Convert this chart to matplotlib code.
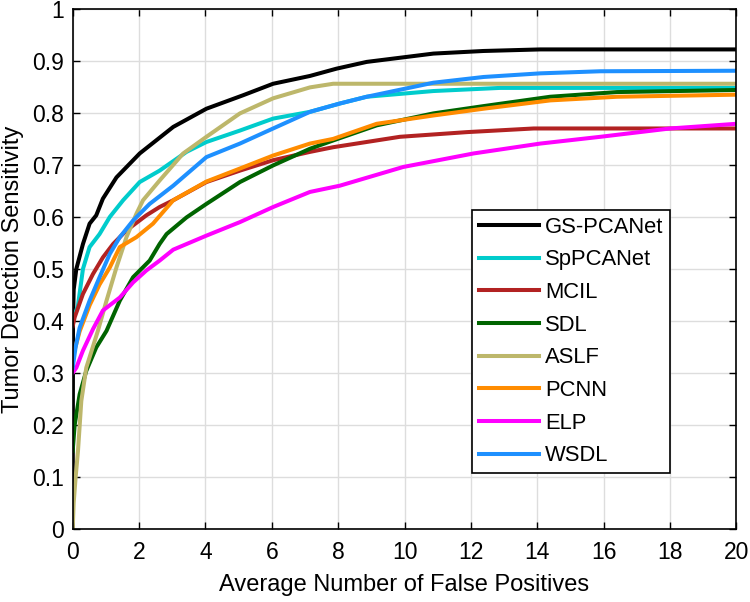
import matplotlib
matplotlib.use('Agg')
import matplotlib.pyplot as plt

plt.rcParams['font.family'] = ['Liberation Sans', 'DejaVu Sans']

# FROC curves
gs_x = [0, 0.01, 0.03, 0.11, 0.31, 0.51, 0.71, 0.91, 1.32, 2.02, 3.03, 4.03, 5.14, 6.04, 7.15, 7.95, 8.86, 10.87, 12.38, 14.09, 20]
gs_y = [0, 0.40, 0.46, 0.50, 0.548, 0.587, 0.603, 0.635, 0.676, 0.722, 0.773, 0.808, 0.834, 0.856, 0.871, 0.885, 0.898, 0.914, 0.919, 0.922, 0.922]

sp_x = [0, 0.16, 0.31, 0.51, 0.81, 1.12, 1.52, 2.02, 2.62, 3.43, 4.03, 5.04, 6.04, 7.15, 8.05, 8.86, 10.87, 12.88, 20]
sp_y = [0.40, 0.43, 0.50, 0.542, 0.567, 0.60, 0.632, 0.667, 0.689, 0.725, 0.744, 0.766, 0.789, 0.802, 0.818, 0.831, 0.842, 0.848, 0.848]

mcil_x = [0, 0.06, 0.31, 0.61, 0.91, 1.22, 1.62, 2.22, 2.62, 3.03, 4.03, 5.04, 6.04, 7.15, 7.85, 9.86, 11.88, 13.89, 20]
mcil_y = [0.39, 0.407, 0.452, 0.49, 0.522, 0.548, 0.574, 0.603, 0.619, 0.632, 0.667, 0.689, 0.709, 0.725, 0.734, 0.754, 0.763, 0.770, 0.770]

sdl_x = [0, 0.06, 0.21, 0.41, 0.71, 1.02, 1.42, 1.82, 2.32, 2.62, 2.83, 3.43, 4.03, 5.04, 6.04, 7.15, 7.85, 9.16, 10.87, 12.38, 14.39, 16.4, 20]
sdl_y = [0.15, 0.20, 0.259, 0.304, 0.349, 0.381, 0.439, 0.484, 0.516, 0.548, 0.567, 0.599, 0.625, 0.667, 0.699, 0.731, 0.747, 0.776, 0.799, 0.813, 0.831, 0.840, 0.844]

aslf_x = [0, 0.03, 0.09, 0.16, 0.26, 0.41, 0.76, 1.02, 1.32, 1.62, 1.92, 2.12, 2.62, 3.33, 4.03, 5.04, 6.04, 7.15, 7.85, 20]
aslf_y = [0, 0.05, 0.10, 0.15, 0.246, 0.31, 0.381, 0.439, 0.503, 0.561, 0.606, 0.632, 0.670, 0.722, 0.754, 0.799, 0.828, 0.849, 0.856, 0.856]

pcnn_x = [0, 0.21, 0.51, 0.81, 1.12, 1.42, 1.92, 2.42, 3.03, 4.03, 5.04, 6.04, 7.15, 7.85, 9.16, 10.87, 12.38, 14.39, 16.4, 20]
pcnn_y = [0.33, 0.38, 0.43, 0.47, 0.503, 0.542, 0.561, 0.587, 0.632, 0.668, 0.693, 0.718, 0.741, 0.750, 0.779, 0.795, 0.808, 0.824, 0.831, 0.835]

elp_x = [0, 0.11, 0.31, 0.61, 0.91, 1.42, 1.82, 2.22, 2.62, 3.03, 4.03, 5.04, 6.04, 7.15, 8.05, 9.96, 12.08, 14.09, 15.9, 18.0, 20]
elp_y = [0.30, 0.31, 0.343, 0.384, 0.42, 0.445, 0.474, 0.497, 0.516, 0.537, 0.564, 0.590, 0.619, 0.648, 0.660, 0.696, 0.722, 0.741, 0.754, 0.770, 0.779]

wsdl_x = [0, 0.09, 0.21, 0.51, 0.81, 1.12, 1.42, 1.82, 2.32, 3.03, 4.03, 5.04, 6.04, 7.15, 8.05, 8.86, 10.87, 12.38, 14.09, 15.9, 20]
wsdl_y = [0.31, 0.35, 0.387, 0.439, 0.484, 0.529, 0.561, 0.593, 0.625, 0.660, 0.715, 0.741, 0.770, 0.802, 0.818, 0.831, 0.858, 0.869, 0.876, 0.880, 0.881]

y_ticks = [0, 0.1, 0.2, 0.3, 0.4, 0.5, 0.6, 0.7, 0.8, 0.9, 1]
y_tick_labels = ['0', '0.1', '0.2', '0.3', '0.4', '0.5', '0.6', '0.7', '0.8', '0.9', '1']
x_ticks = [0, 2, 4, 6, 8, 10, 12, 14, 16, 18, 20]

fig = plt.figure(figsize=(7.5, 6.02), dpi=100)
ax = fig.add_axes([0.0969, 0.1213, 0.885, 0.864])

lw = 2.9
ax.plot(gs_x, gs_y, color='black', lw=lw, label='GS-PCANet')
ax.plot(sp_x, sp_y, color='#00CCCC', lw=lw, label='SpPCANet')
ax.plot(mcil_x, mcil_y, color='#B22222', lw=lw, label='MCIL')
ax.plot(sdl_x, sdl_y, color='#006400', lw=lw, label='SDL')
ax.plot(aslf_x, aslf_y, color='#BDB76B', lw=lw, label='ASLF')
ax.plot(pcnn_x, pcnn_y, color='#FF8C00', lw=lw, label='PCNN')
ax.plot(elp_x, elp_y, color='#FF00FF', lw=lw, label='ELP')
ax.plot(wsdl_x, wsdl_y, color='#1E90FF', lw=lw, label='WSDL')

ax.set_xlim(0, 20)
ax.set_ylim(0, 1)
ax.set_xticks(x_ticks)
ax.set_yticks(y_ticks)
ax.set_yticklabels(y_tick_labels)
ax.grid(True, color='#dddddd', lw=1)
ax.set_axisbelow(True)
ax.tick_params(direction='in', top=True, right=True, length=5, width=1, labelsize=16.5)
ax.tick_params(axis='x', pad=9)
ax.tick_params(axis='y', pad=6)
for s in ax.spines.values():
    s.set_linewidth(1.2)

ax.set_xlabel('Average Number of False Positives', fontsize=17, labelpad=7)
ax.set_ylabel('Tumor Detection Sensitivity', fontsize=17, labelpad=6)

leg = ax.legend(loc='lower left', bbox_to_anchor=(0.6015, 0.108), borderaxespad=0,
                fontsize=15.8, labelspacing=0.53, handlelength=2.75, handletextpad=0.27,
                borderpad=0.3, fancybox=False, framealpha=1, edgecolor='black')
leg.get_frame().set_linewidth(1.2)

fig.savefig('out.png', dpi=100)
